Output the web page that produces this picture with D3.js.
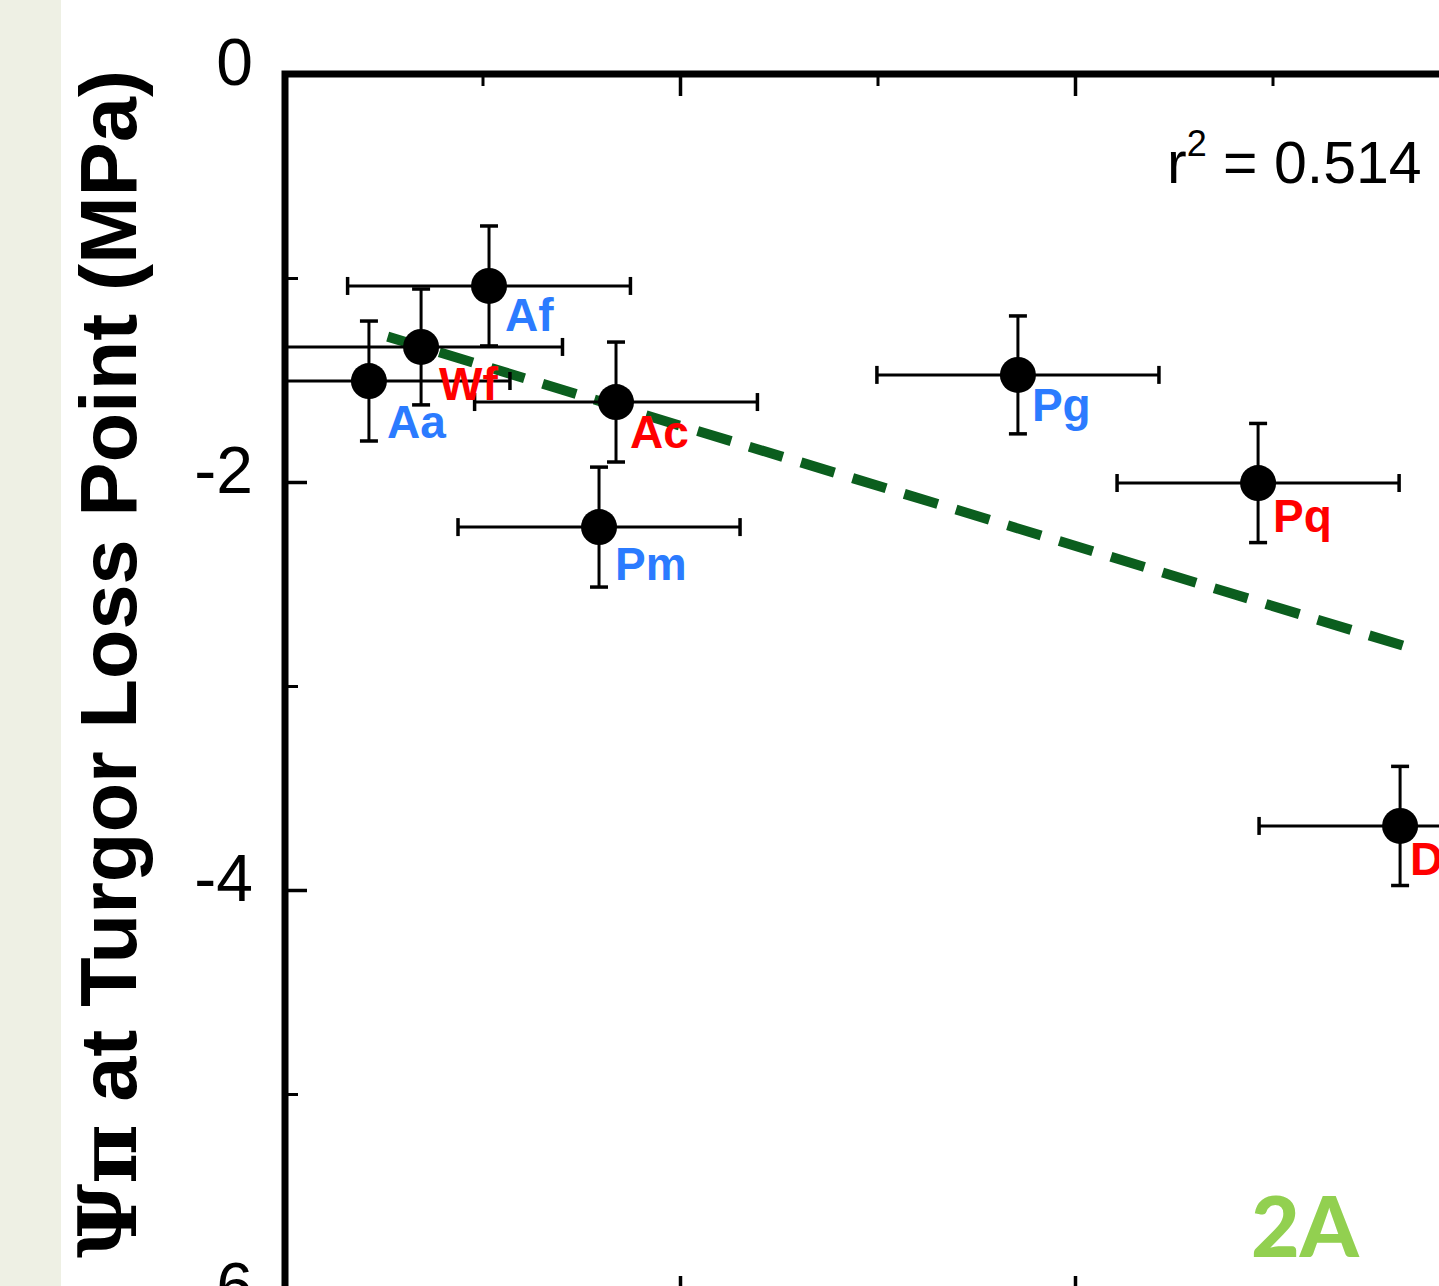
<!DOCTYPE html>
<html>
<head>
<meta charset="utf-8">
<script src="https://cdn.jsdelivr.net/npm/d3@7/dist/d3.min.js"></script>
<style>
  html, body { margin: 0; padding: 0; background: #ffffff; overflow: hidden; }
  svg { display: block; }
</style>
</head>
<body>
<svg id="chart" width="1439" height="1286"></svg>
<script>
// Species codes and their measured values
const species = ["Aa", "Wf", "Af", "Ac", "Pm", "Pg", "Pq", "D"];
const speciesGroup = ["angiosperm", "conifer", "angiosperm", "conifer", "angiosperm", "angiosperm", "conifer", "conifer"];
const xValues = [0.425, 0.689, 1.033, 1.676, 1.590, 3.711, 4.927, 5.646];
const tlpValues = [-1.505, -1.338, -1.039, -1.608, -2.221, -1.475, -2.005, -3.686];
const xErrors = [0.714, 0.716, 0.716, 0.716, 0.714, 0.714, 0.714, 0.714];
const tlpErrors = [0.294, 0.284, 0.294, 0.294, 0.294, 0.289, 0.292, 0.292];

// Axis ticks
const yMajorTicks = [0, -2, -4, -6];
const yMinorTicks = [-1, -3, -5];
const xMajorTicks = [0, 2, 4, 6];
const xMinorTicks = [1, 3, 5];

// Extent of the fitted regression line along x
const fitSpan = [0.52, 5.67];
const r2Text = "0.514";
const panelText = "2A";
const yTitleSymbol = "Ψπ";
const yTitleText = " at Turgor Loss Point (MPa)";

// ---- layout & styling ----
const W = 1439, H = 1286;
const plot = { left: 285, top: 74, right: 1470, bottom: 1298 };
const groupColor = { angiosperm: "#2b7bff", conifer: "#ff0000" };
const labelOffsets = {
  Aa: [18, 57], Wf: [18, 53], Af: [16, 45], Ac: [14, 46],
  Pm: [16, 53], Pg: [14, 46], Pq: [15, 49], D: [10, 49]
};

const svg = d3.select("#chart");

// pale strip on the far left
svg.append("rect").attr("x", 0).attr("y", 0).attr("width", 61).attr("height", H)
  .attr("fill", "#eef0e4");

const x = d3.scaleLinear().domain([0, 6]).range([plot.left, plot.right]);
const y = d3.scaleLinear().domain([0, -6]).range([plot.top, plot.bottom]);

const data = species.map((s, i) => ({
  name: s, group: speciesGroup[i], x: xValues[i], y: tlpValues[i],
  ex: xErrors[i], ey: tlpErrors[i]
}));

svg.append("defs").append("clipPath").attr("id", "plotClip")
  .append("rect")
  .attr("x", plot.left).attr("y", plot.top)
  .attr("width", plot.right - plot.left).attr("height", plot.bottom - plot.top);

// ---- axes ----
const axisFont = "'Liberation Sans', Arial, Helvetica, sans-serif";

function styleAxis(g, width) {
  g.select(".domain").remove();
  g.selectAll(".tick line").attr("stroke", "#000").attr("stroke-width", width);
}

const yMajor = svg.append("g").attr("transform", `translate(${plot.left},0)`)
  .call(d3.axisLeft(y).tickValues(yMajorTicks).tickSize(-22).tickPadding(32)
    .tickFormat(d => String(d)));
styleAxis(yMajor, 3.5);
yMajor.selectAll(".tick text")
  .attr("font-family", axisFont).attr("font-size", 66).attr("fill", "#000")
  .attr("dy", "0.16em");

const yMinor = svg.append("g").attr("transform", `translate(${plot.left},0)`)
  .call(d3.axisLeft(y).tickValues(yMinorTicks).tickSize(-13).tickFormat(""));
styleAxis(yMinor, 3);

const xTopMajor = svg.append("g").attr("transform", `translate(0,${plot.top})`)
  .call(d3.axisTop(x).tickValues(xMajorTicks).tickSize(-22).tickFormat(""));
styleAxis(xTopMajor, 3.5);
const xTopMinor = svg.append("g").attr("transform", `translate(0,${plot.top})`)
  .call(d3.axisTop(x).tickValues(xMinorTicks).tickSize(-12).tickFormat(""));
styleAxis(xTopMinor, 3);
const xBotMajor = svg.append("g").attr("transform", `translate(0,${plot.bottom})`)
  .call(d3.axisBottom(x).tickValues(xMajorTicks).tickSize(-22).tickFormat(""));
styleAxis(xBotMajor, 3.5);
const xBotMinor = svg.append("g").attr("transform", `translate(0,${plot.bottom})`)
  .call(d3.axisBottom(x).tickValues(xMinorTicks).tickSize(-12).tickFormat(""));
styleAxis(xBotMinor, 3);

// frame
svg.append("rect")
  .attr("x", plot.left).attr("y", plot.top)
  .attr("width", plot.right - plot.left).attr("height", plot.bottom - plot.top)
  .attr("fill", "none").attr("stroke", "#000").attr("stroke-width", 7);

// ---- least-squares fit ----
const mx = d3.mean(data, d => d.x), my = d3.mean(data, d => d.y);
const sxy = d3.sum(data, d => (d.x - mx) * (d.y - my));
const sxx = d3.sum(data, d => (d.x - mx) ** 2);
const slope = sxy / sxx, intercept = my - slope * mx;
const fitLine = d3.line().x(d => x(d)).y(d => y(intercept + slope * d));

const plotArea = svg.append("g").attr("clip-path", "url(#plotClip)");

plotArea.append("path")
  .datum(fitSpan)
  .attr("d", fitLine)
  .attr("fill", "none")
  .attr("stroke", "#0b5e1e")
  .attr("stroke-width", 10)
  .attr("stroke-dasharray", "35,19");

// ---- error bars ----
const bars = plotArea.append("g").attr("stroke", "#000").attr("fill", "none");
const capX = 9, capY = 9;
data.forEach(d => {
  const cx = x(d.x), cy = y(d.y);
  const x0 = x(d.x - d.ex), x1 = x(d.x + d.ex);
  const y0 = y(d.y + d.ey), y1 = y(d.y - d.ey);
  bars.append("line").attr("x1", x0).attr("x2", x1).attr("y1", cy).attr("y2", cy).attr("stroke-width", 3);
  bars.append("line").attr("x1", x0).attr("x2", x0).attr("y1", cy - capY).attr("y2", cy + capY).attr("stroke-width", 3.5);
  bars.append("line").attr("x1", x1).attr("x2", x1).attr("y1", cy - capY).attr("y2", cy + capY).attr("stroke-width", 3.5);
  bars.append("line").attr("x1", cx).attr("x2", cx).attr("y1", y0).attr("y2", y1).attr("stroke-width", 3);
  bars.append("line").attr("x1", cx - capX).attr("x2", cx + capX).attr("y1", y0).attr("y2", y0).attr("stroke-width", 3.5);
  bars.append("line").attr("x1", cx - capX).attr("x2", cx + capX).attr("y1", y1).attr("y2", y1).attr("stroke-width", 3.5);
});

// ---- points ----
svg.append("g").selectAll("circle")
  .data(data).join("circle")
  .attr("cx", d => x(d.x)).attr("cy", d => y(d.y))
  .attr("r", 18).attr("fill", "#000");

// ---- species labels ----
svg.append("g").selectAll("text")
  .data(data).join("text")
  .attr("x", d => x(d.x) + labelOffsets[d.name][0])
  .attr("y", d => y(d.y) + labelOffsets[d.name][1])
  .attr("font-family", axisFont).attr("font-weight", "bold").attr("font-size", 46)
  .attr("fill", d => groupColor[d.group])
  .text(d => d.name);

// ---- r² annotation ----
const r2 = svg.append("text")
  .attr("x", 1167).attr("y", 183)
  .attr("font-family", axisFont).attr("font-size", 59).attr("fill", "#000");
r2.append("tspan").text("r");
r2.append("tspan").attr("font-size", 36).attr("dy", -27).text("2");
r2.append("tspan").attr("dy", 27).text(" = " + r2Text);

// ---- panel tag ----
svg.append("text")
  .attr("x", 1251).attr("y", 1257)
  .attr("font-family", "Lato, 'Open Sans', sans-serif").attr("font-weight", 900)
  .attr("font-size", 84).attr("fill", "#92d050")
  .text(panelText);

// ---- y-axis title ----
const yTitle = svg.append("text")
  .attr("transform", "translate(136,1258) rotate(-90)")
  .attr("font-family", axisFont).attr("font-weight", "bold").attr("font-size", 80)
  .attr("fill", "#000")
  .attr("textLength", 1188).attr("lengthAdjust", "spacingAndGlyphs");
yTitle.append("tspan").attr("font-family", "'DejaVu Serif', serif").text(yTitleSymbol);
yTitle.append("tspan").text(yTitleText);
</script>
</body>
</html>
